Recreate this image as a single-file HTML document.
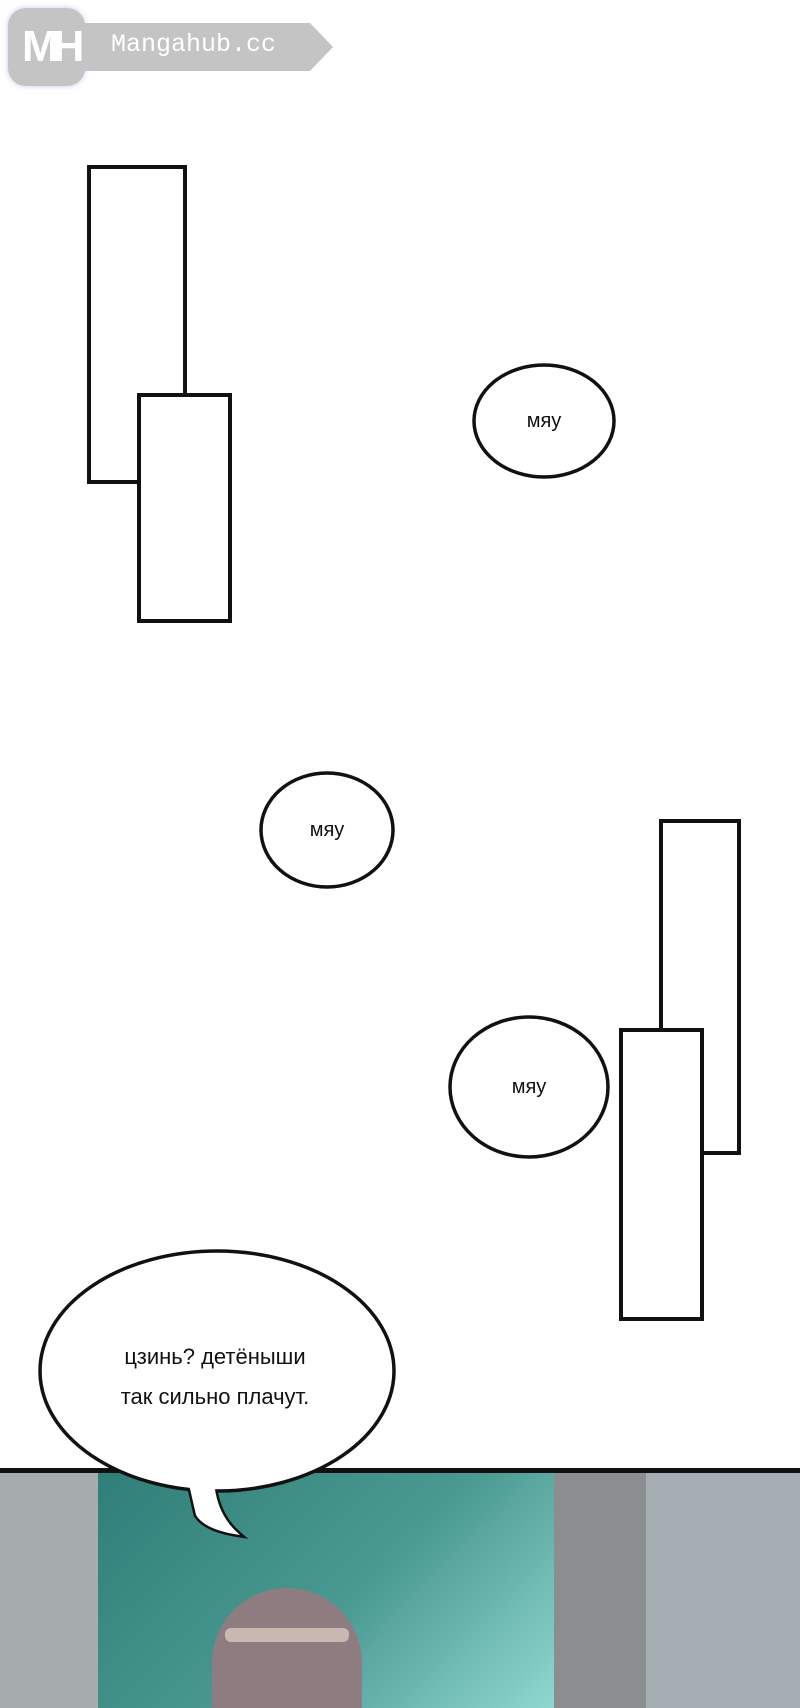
<!DOCTYPE html>
<html style="margin:0;overflow:hidden"><head><style>
body{margin:0;width:800px;height:1708px;background:#fff;overflow:hidden;font-family:"Liberation Sans",sans-serif}
#w{position:relative;width:800px;height:1708px;overflow:hidden;background:#fff}
.a{position:absolute}
.r{position:absolute;border:4px solid #111;background:#fff;box-sizing:border-box}
.t{position:absolute;font-size:20px;color:#111;text-align:center;letter-spacing:0px}
</style></head><body><div id="w">
<div class="a" style="left:8px;top:8px;width:77px;height:78px;border-radius:18px;background:#c4c4c4;box-shadow:0 0 6px #c8c4f0"></div>
<div class="a" style="left:22px;top:22px;color:#fff;font:bold 44px 'Liberation Sans';letter-spacing:-6px">MH</div>
<svg class="a" style="left:85px;top:22px" width="250" height="52"><polygon points="0,1 225,1 248,25 225,49 0,49" fill="#c4c4c4"/></svg>
<div class="a" style="left:111px;top:30px;color:#fff;font:25px 'Liberation Mono'">Mangahub.cc</div>

<div class="r" style="left:87px;top:165px;width:100px;height:319px"></div>
<div class="r" style="left:137px;top:393px;width:95px;height:230px"></div>
<div class="r" style="left:659px;top:819px;width:82px;height:336px"></div>
<div class="r" style="left:619px;top:1028px;width:85px;height:293px"></div>

<svg class="a" style="left:0;top:0" width="800" height="1300">
<ellipse cx="544" cy="421" rx="70" ry="56" fill="#fff" stroke="#111" stroke-width="3.5"/>
<ellipse cx="327" cy="830" rx="66" ry="57" fill="#fff" stroke="#111" stroke-width="3.5"/>
<ellipse cx="529" cy="1087" rx="79" ry="70" fill="#fff" stroke="#111" stroke-width="3.5"/>
</svg>
<div class="t" style="left:504px;top:410px;width:80px">мяу</div>
<div class="t" style="left:287px;top:819px;width:80px">мяу</div>
<div class="t" style="left:489px;top:1076px;width:80px">мяу</div>

<div class="a" style="left:0;top:1472px;width:800px;height:236px;background:#a5aeb2"></div>
<div class="a" style="left:0;top:1472px;width:97px;height:236px;background:#a6abac"></div>
<div class="a" style="left:98px;top:1472px;width:456px;height:236px;background:linear-gradient(135deg,#2f7f78,#4a9a92 55%,#8fd6d0)"></div>
<div class="a" style="left:554px;top:1472px;width:92px;height:236px;background:#8a8e90"></div>
<div class="a" style="left:212px;top:1588px;width:150px;height:120px;border-radius:75px 75px 0 0;background:#8e7c80"></div>
<div class="a" style="left:225px;top:1628px;width:124px;height:14px;background:#c9b8b2;border-radius:6px"></div>
<div class="a" style="left:0;top:1468px;width:800px;height:5px;background:#111"></div>

<svg class="a" style="left:0;top:1240px" width="420" height="300">
<path d="M188,240 L196,275 Q205,290 240,295 Q216,275 214,240 Z" fill="#fff" stroke="#111" stroke-width="5"/>
<ellipse cx="217" cy="131" rx="177" ry="120" fill="#fff" stroke="#111" stroke-width="3.5"/>
<path d="M188,240 L196,275 Q205,290 240,295 Q216,275 214,240 Z" fill="#fff"/>
</svg>
<div class="t" style="left:60px;top:1337px;width:310px;font-size:22px;line-height:40px">цзинь? детёныши<br>так сильно плачут.</div>
</div></body></html>
